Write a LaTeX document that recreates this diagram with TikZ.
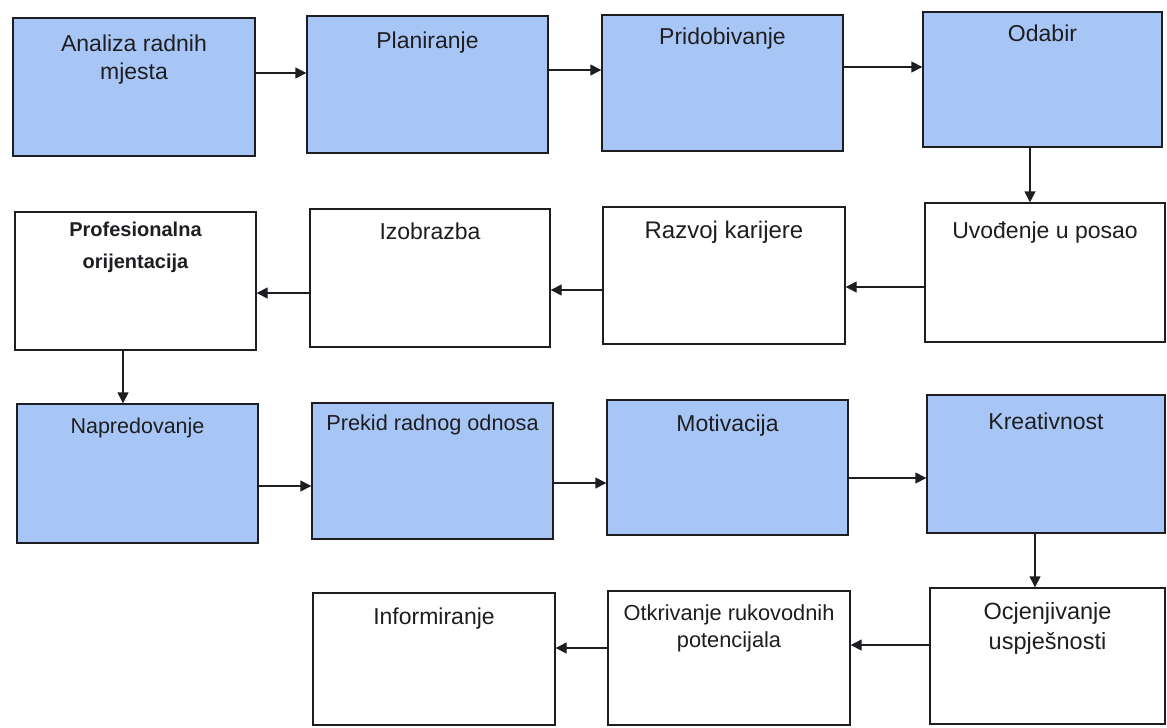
\documentclass[tikz,border=0pt]{standalone}
\usepackage{fontspec}
\setmainfont{Liberation Sans}
\usetikzlibrary{arrows.meta}
\definecolor{boxblue}{RGB}{168,198,245}
\definecolor{ink}{RGB}{30,30,34}
\begin{document}
\begin{tikzpicture}[x=1pt,y=-1pt,
  bluebox/.style={draw=ink, line width=1.4pt, fill=boxblue, inner sep=0pt},
  whitebox/.style={draw=ink, line width=1.4pt, fill=white, inner sep=0pt},
  lbl/.style={anchor=north, inner sep=0pt, align=center, text=ink},
  arr/.style={draw=ink, line width=1.4pt, -{Triangle[length=11pt,width=11pt]}}
]
\useasboundingbox (0,0) rectangle (1167,728);
\fill[white] (0,0) rectangle (1167,728);

% Row 1
\node[bluebox, minimum width=242pt, minimum height=138pt] (A) at (134,87) {};
\node[bluebox, minimum width=241pt, minimum height=137pt] (B) at (427.5,84.5) {};
\node[bluebox, minimum width=241pt, minimum height=136pt] (C) at (722.5,83) {};
\node[bluebox, minimum width=239pt, minimum height=135pt] (D) at (1042.5,79.5) {};
% Row 2
\node[whitebox, minimum width=241pt, minimum height=138pt] (E) at (135.5,281) {};
\node[whitebox, minimum width=240pt, minimum height=138pt] (F) at (430,278) {};
\node[whitebox, minimum width=242pt, minimum height=137pt] (G) at (724,275.5) {};
\node[whitebox, minimum width=240pt, minimum height=139pt] (H) at (1045,272.5) {};
% Row 3
\node[bluebox, minimum width=241pt, minimum height=139pt] (I) at (137.5,473.5) {};
\node[bluebox, minimum width=241pt, minimum height=136pt] (J) at (432.5,471) {};
\node[bluebox, minimum width=241pt, minimum height=135pt] (K) at (727.5,467.5) {};
\node[bluebox, minimum width=238pt, minimum height=138pt] (L) at (1046,464) {};
% Row 4
\node[whitebox, minimum width=242pt, minimum height=132pt] (M) at (434,659) {};
\node[whitebox, minimum width=242pt, minimum height=134pt] (N) at (729,658) {};
\node[whitebox, minimum width=235pt, minimum height=136pt] (O) at (1047.5,656) {};

% Labels
\node[lbl, font=\fontsize{23}{28}\selectfont] (tA) at ([yshift=-17pt]A.north) {Analiza radnih\\mjesta};
\node[lbl, font=\fontsize{23}{28}\selectfont] (tB) at ([yshift=-16pt]B.north) {Planiranje};
\node[lbl, font=\fontsize{23}{28}\selectfont] (tC) at ([yshift=-13pt]C.north) {Pridobivanje};
\node[lbl, font=\fontsize{23}{28}\selectfont] (tD) at ([yshift=-13pt]D.north) {Odabir};
\node[lbl, font=\bfseries\fontsize{20}{32}\selectfont] (tE) at ([yshift=-11pt]E.north) {Profesionalna\\orijentacija};
\node[lbl, font=\fontsize{23}{28}\selectfont] (tF) at ([yshift=-14pt]F.north) {Izobrazba};
\node[lbl, font=\fontsize{24}{28}\selectfont] (tG) at ([yshift=-15pt]G.north) {Razvoj karijere};
\node[lbl, font=\fontsize{23}{28}\selectfont] (tH) at ([yshift=-19pt]H.north) {Uvođenje u posao};
\node[lbl, font=\fontsize{21.5}{28}\selectfont] (tI) at ([yshift=-14pt]I.north) {Napredovanje};
\node[lbl, font=\fontsize{21.7}{28}\selectfont] (tJ) at ([yshift=-12pt]J.north) {Prekid radnog odnosa};
\node[lbl, font=\fontsize{23}{28}\selectfont] (tK) at ([yshift=-15pt]K.north) {Motivacija};
\node[lbl, font=\fontsize{23}{28}\selectfont] (tL) at ([yshift=-18pt]L.north) {Kreativnost};
\node[lbl, font=\fontsize{23}{28}\selectfont] (tM) at ([yshift=-15pt]M.north) {Informiranje};
\node[lbl, font=\fontsize{21.8}{27}\selectfont] (tN) at ([yshift=-14pt]N.north) {Otkrivanje rukovodnih\\potencijala};
\node[lbl, font=\fontsize{23.5}{30}\selectfont] (tO) at ([yshift=-15pt]O.north) {Ocjenjivanje\\uspješnosti};

% Connector anchors
\coordinate (ab) at ([yshift=14pt]A.east);
\coordinate (bc) at ([yshift=14.5pt]B.east);
\coordinate (cd) at ([yshift=16pt]C.east);
\coordinate (dh) at ([xshift=-12.5pt]D.south);
\coordinate (hg) at ([yshift=-14.5pt]H.west);
\coordinate (gf) at ([yshift=-14.5pt]G.west);
\coordinate (fe) at ([yshift=-15pt]F.west);
\coordinate (ei) at ([xshift=-12.5pt]E.south);
\coordinate (ij) at ([yshift=-12.5pt]I.east);
\coordinate (jk) at ([yshift=-12pt]J.east);
\coordinate (kl) at ([yshift=-10.5pt]K.east);
\coordinate (lo) at ([xshift=-11pt]L.south);
\coordinate (on) at ([yshift=11pt]O.west);
\coordinate (nm) at ([yshift=10pt]N.west);

% Connectors
\draw[arr] (ab) -- (ab -| B.west);
\draw[arr] (bc) -- (bc -| C.west);
\draw[arr] (cd) -- (cd -| D.west);
\draw[arr] (dh) -- (dh |- H.north);
\draw[arr] (hg) -- (hg -| G.east);
\draw[arr] (gf) -- (gf -| F.east);
\draw[arr] (fe) -- (fe -| E.east);
\draw[arr] (ei) -- (ei |- I.north);
\draw[arr] (ij) -- (ij -| J.west);
\draw[arr] (jk) -- (jk -| K.west);
\draw[arr] (kl) -- (kl -| L.west);
\draw[arr] (lo) -- (lo |- O.north);
\draw[arr] (on) -- (on -| N.east);
\draw[arr] (nm) -- (nm -| M.east);
\end{tikzpicture}
\end{document}
